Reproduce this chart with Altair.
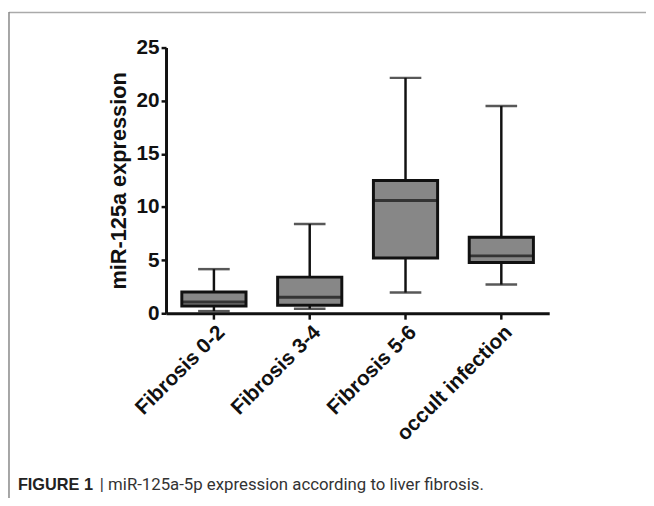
import altair as alt
import pandas as pd

categories = ["Fibrosis 0-2", "Fibrosis 3-4", "Fibrosis 5-6", "occult infection"]
q_min = [0.2, 0.43, 1.95, 2.7]
q1 = [0.68, 0.75, 5.2, 4.77]
median = [1.05, 1.5, 10.6, 5.4]
q3 = [2.0, 3.4, 12.5, 7.15]
q_max = [4.15, 8.4, 22.15, 19.5]
y_ticks = [0, 5, 10, 15, 20, 25]

df = pd.DataFrame({"cat": categories, "lo": q_min, "q1": q1, "med": median, "q3": q3, "hi": q_max})

FONT = "Liberation Sans, Arial, Helvetica, sans-serif"
BLACK = "#111111"
FILL = "#878787"

x_enc = alt.X("cat:N", sort=categories, title=None,
              scale=alt.Scale(paddingInner=0, paddingOuter=0),
              axis=alt.Axis(labelAngle=-45, labelFont=FONT, labelFontSize=21, labelFontWeight="bold",
                            labelColor=BLACK, domainColor=BLACK, domainWidth=3, tickColor=BLACK,
                            tickWidth=2.5, tickSize=6, labelPadding=2, labelAlign="right",
                            labelBaseline="top", grid=False))
y_scale = alt.Scale(domain=[0, 25], nice=False)
y_axis = alt.Axis(values=y_ticks, labelFont=FONT, labelFontSize=21, labelFontWeight="bold",
                  labelColor=BLACK, domainColor=BLACK, domainWidth=3, tickColor=BLACK,
                  tickWidth=2.5, tickSize=5, labelPadding=2, grid=False,
                  titleFont=FONT, titleFontSize=22, titleFontWeight="bold", titleColor=BLACK,
                  titlePadding=6)

base = alt.Chart(df)

whisk = base.mark_rule(color=BLACK, strokeWidth=2.5).encode(
    x=x_enc,
    y=alt.Y("lo:Q", scale=y_scale, axis=y_axis, title="miR-125a expression"),
    y2="hi:Q")
box = base.mark_bar(size=65, fill=FILL, stroke=BLACK, strokeWidth=3).encode(
    x=alt.X("cat:N", sort=categories), y="q1:Q", y2="q3:Q")
med = base.mark_tick(size=65, thickness=3, color=BLACK, orient="horizontal").encode(
    x=alt.X("cat:N", sort=categories), y="med:Q")
cap_lo = base.mark_tick(size=32, thickness=2.5, color=BLACK, orient="horizontal").encode(
    x=alt.X("cat:N", sort=categories), y="lo:Q")
cap_hi = base.mark_tick(size=32, thickness=2.5, color=BLACK, orient="horizontal").encode(
    x=alt.X("cat:N", sort=categories), y="hi:Q")

one = alt.Chart(pd.DataFrame({"a": [0]}))
frame_top = one.mark_rule(color="#aaaaaa", strokeWidth=1.5).encode(
    x=alt.value(-159), x2=alt.value(490), y=alt.value(-35.5))
frame_left = one.mark_rule(color="#888888", strokeWidth=1.5).encode(
    x=alt.value(-159), y=alt.value(-36), y2=alt.value(460))
cap_bold = one.mark_text(align="left", baseline="alphabetic", font=FONT, fontSize=16.5,
                         fontWeight="bold", color="#222222").encode(
    x=alt.value(-150), y=alt.value(448), text=alt.value("FIGURE 1"))
cap_reg = one.mark_text(align="left", baseline="alphabetic",
                        font="Roboto, sans-serif", fontSize=17,
                        color="#333333").encode(
    x=alt.value(-67), y=alt.value(448),
    text=alt.value("| miR-125a-5p expression according to liver fibrosis."))

chart = alt.layer(whisk, box, med, cap_lo, cap_hi, frame_top, frame_left, cap_bold, cap_reg).properties(
    width=388, height=269,
    background="white",
    autosize=alt.AutoSizeParams(type="none"),
    padding={"left": 160, "top": 37, "right": 98, "bottom": 184},
).configure_view(stroke=None, strokeWidth=0).configure_axis(grid=False)

chart.save("out.html", embed_options={"renderer": "svg", "actions": False})
